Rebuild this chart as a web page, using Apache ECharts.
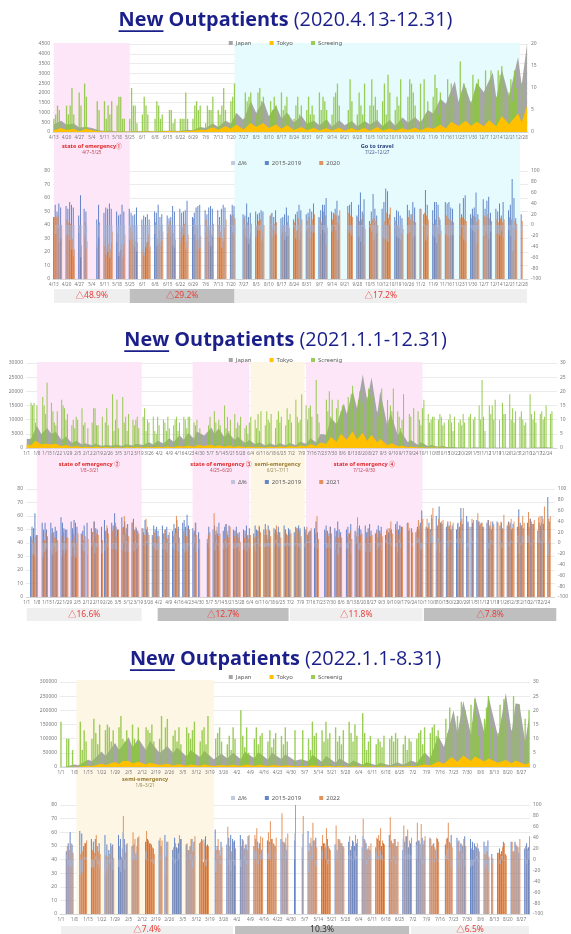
<!DOCTYPE html>
<html><head><meta charset="utf-8">
<script src="https://cdn.jsdelivr.net/npm/echarts@6/dist/echarts.min.js"></script>
<style>html,body{margin:0;padding:0;background:#fff}#c{width:571px;height:934px}</style>
</head><body><div id="c"></div>
<script>
// ===================== DATA =====================
// Panel 1 : 2020.4.13 - 12.31 (rows = weeks Mon..Sun)
const start20 = [2020, 4, 13], days20 = 263;
const japan20 = [["4/13",390],["4/17",580],["4/20",370],["4/24",430],["4/27",230],["5/1",260],["5/4",200],["5/8",90],["5/11",50],["5/15",70],["5/18",30],["5/22",40],["5/25",20],["5/29",50],["6/1",40],["6/5",50],["6/8",20],["6/12",60],["6/15",70],["6/19",60],["6/22",50],["6/26",110],["6/29",90],["7/3",250],["7/6",200],["7/10",430],["7/13",260],["7/17",590],["7/20",420],["7/23",980],["7/27",600],["7/31",1580],["8/3",970],["8/7",1600],["8/10",800],["8/14",1360],["8/17",680],["8/20",1000],["8/24",490],["8/28",840],["8/31",440],["9/4",570],["9/7",340],["9/11",650],["9/14",270],["9/18",600],["9/21",340],["9/25",560],["9/28",300],["10/2",560],["10/5",380],["10/9",620],["10/12",290],["10/16",620],["10/19",320],["10/23",740],["10/26",490],["10/30",760],["11/2",490],["11/6",1130],["11/9",940],["11/13",1700],["11/16",1440],["11/21",2600],["11/23",1520],["11/26",2500],["11/30",1440],["12/3",2520],["12/7",2030],["12/12",3040],["12/14",1700],["12/17",3200],["12/21",1800],["12/26",3830],["12/28",2400],["12/31",4520]];
const tokyo20 = [["4/13",90],["4/17",200],["4/20",100],["4/24",160],["4/27",40],["5/1",160],["5/4",90],["5/8",40],["5/11",20],["5/15",10],["5/18",10],["5/25",8],["5/29",20],["6/1",10],["6/5",20],["6/8",10],["6/12",25],["6/15",45],["6/19",35],["6/22",30],["6/26",55],["6/29",60],["7/3",120],["7/6",100],["7/10",240],["7/13",120],["7/17",290],["7/20",170],["7/23",370],["7/27",130],["7/31",460],["8/3",260],["8/7",460],["8/10",200],["8/14",380],["8/17",160],["8/20",340],["8/24",100],["8/28",250],["8/31",100],["9/4",210],["9/7",80],["9/11",190],["9/14",80],["9/18",220],["9/21",80],["9/25",200],["9/28",80],["10/2",200],["10/5",60],["10/9",250],["10/12",80],["10/16",180],["10/19",80],["10/23",190],["10/26",100],["10/30",220],["11/2",90],["11/6",240],["11/9",160],["11/13",370],["11/16",180],["11/19",530],["11/23",310],["11/27",570],["11/30",310],["12/3",530],["12/7",290],["12/10",600],["12/14",300],["12/17",820],["12/21",390],["12/26",950],["12/28",480],["12/31",1340]];
const screen20 = [
3,4,6,5,2,0,0, 6,4,6,10,4,0,0, 9,6,0,11,8,0,0, 0,0,0,7,5,0,0, 7,3,6,4,7,0,0, 6,8,8,3,3,0,0, 3,10,6,6,2,0,0,
4,8,6,4,0,0,0, 3,7,6,3,4,0,0, 0,5,5,2,3,0,0, 3,3,3,9,3,0,0, 3,6,7,5,6,0,0, 2,6,5,5,8,0,0, 5,4,6,10,5,0,0,
7,8,11,0,0,0,0, 3,9,7,8,9,0,0, 4,9,10,7,8,0,0, 0,7,5,8,6,0,0, 9,5,6,8,4,0,0, 3,6,8,4,6,0,0, 5,8,4,6,4,0,0,
9,5,8,7,5,0,0, 4,8,9,11,6,0,0, 0,0,5,12,7,0,0, 4,9,6,4,11,0,0, 6,12,6,8,5,0,0, 7,11,4,13,9,0,0, 5,8,6,12,2,0,0,
8,12,11,9,6,0,0, 11,0,12,4,7,0,0, 8,13,10,4,9,0,0, 6,12,5,11,8,0,0, 0,16,9,11,10,0,0, 7,13,9,11,12,0,0,
6,14,10,9,14,0,0, 8,14,13,15,11,0,0, 9,12,7,14,10,0,0, 11,0,0,0];
const base20 = [
46,55,50,56,53,0,0, 54,52,57,55,53,0,0, 47,62,0,52,50,0,0, 0,0,0,44,55,0,0, 49,53,52,56,52,0,0, 50,47,48,55,50,0,0, 52,49,47,48,53,0,0,
44,47,46,48,44,0,0, 50,49,55,46,48,0,0, 47,45,46,54,50,0,0, 52,49,50,51,58,0,0, 46,49,53,54,55,0,0, 51,48,53,54,52,0,0, 51,46,52,55,53,0,0,
48,55,54,0,0,0,0, 48,47,56,46,49,0,0, 50,48,49,51,50,0,0, 0,47,49,46,51,0,0, 45,46,48,53,47,0,0, 44,48,50,55,51,0,0, 48,49,52,50,56,0,0,
46,51,55,55,60,0,0, 50,49,52,58,47,0,0, 0,0,54,55,57,0,0, 47,55,64,50,59,0,0, 43,50,63,52,47,0,0, 52,57,67,65,48,0,0, 46,51,50,47,45,0,0,
55,51,48,57,53,0,0, 52,0,48,66,55,0,0, 51,57,57,55,44,0,0, 57,56,57,53,52,0,0, 0,56,48,60,62,0,0, 48,52,53,64,48,0,0,
59,52,58,61,49,0,0, 52,50,56,47,57,0,0, 51,55,74,60,45,0,0, 48,0,0,0];
const cur20 = [
46,46,47,38,40,0,0, 44,42,41,30,22,0,0, 40,25,0,42,28,0,0, 0,0,0,25,42,0,0, 30,24,26,22,35,0,0, 34,20,26,22,33,0,0, 38,35,30,28,27,0,0,
22,20,27,33,24,0,0, 42,30,36,28,35,0,0, 40,43,36,34,29,0,0, 35,38,41,28,33,0,0, 45,40,38,30,32,0,0, 44,38,36,33,41,0,0, 40,35,30,38,44,0,0,
47,48,45,0,0,0,0, 45,38,42,30,41,0,0, 39,43,44,36,40,0,0, 0,48,38,41,42,0,0, 37,40,35,42,38,0,0, 42,36,45,40,44,0,0, 43,46,40,44,48,0,0,
45,42,50,47,38,0,0, 44,48,47,42,51,0,0, 0,0,49,47,46,0,0, 46,43,44,48,37,0,0, 41,44,45,43,40,0,0, 40,43,49,45,53,0,0, 43,40,38,34,37,0,0,
46,44,48,43,42,0,0, 52,0,49,47,44,0,0, 41,44,38,46,36,0,0, 47,45,44,43,42,0,0, 0,45,46,44,43,0,0, 45,47,46,42,44,0,0,
47,46,48,45,43,0,0, 44,42,45,42,44,0,0, 46,44,38,43,41,0,0, 43,0,0,0];

// Panel 2 : 2021.1.1 - 12.31 (rows = weeks Fri..Thu)
const start21 = [2021, 1, 1], days21 = 365;
const japan21 = [["1/1",3200],["1/4",3300],["1/8",7880],["1/11",4900],["1/15",7100],["1/18",4900],["1/21",5700],["1/25",2700],["1/28",4100],["2/1",1800],["2/4",2600],["2/8",1200],["2/10",1700],["2/15",1000],["2/17",1500],["2/22",700],["2/24",1100],["3/1",800],["3/3",1200],["3/8",700],["3/10",1300],["3/15",900],["3/17",1500],["3/22",1100],["3/26",2000],["3/29",1200],["4/1",2600],["4/5",1600],["4/9",3400],["4/12",2100],["4/16",4500],["4/19",2900],["4/22",5300],["4/26",3300],["4/28",5800],["5/3",4400],["5/8",7200],["5/10",4900],["5/13",7000],["5/17",3700],["5/19",5700],["5/24",2800],["5/26",4100],["5/31",1800],["6/3",2800],["6/7",1300],["6/10",2000],["6/14",900],["6/17",1700],["6/21",1000],["6/24",1700],["6/28",1000],["7/1",1800],["7/5",1000],["7/8",2200],["7/12",1500],["7/15",3400],["7/19",1900],["7/22",4900],["7/26",4700],["7/29",10700],["8/2",8400],["8/7",15700],["8/9",12000],["8/13",20300],["8/16",14000],["8/20",25900],["8/23",16800],["8/26",24900],["8/30",11800],["9/1",20000],["9/6",7600],["9/8",12400],["9/13",4600],["9/15",6000],["9/20",2000],["9/22",2800],["9/27",1100],["9/29",2000],["10/4",600],["10/6",1100],["10/11",400],["10/14",700],["10/18",230],["10/21",350],["10/25",150],["10/28",280],["11/1",90],["11/5",230],["11/15",80],["11/19",150],["11/29",80],["12/3",130],["12/13",110],["12/17",190],["12/24",300],["12/27",200],["12/31",500]];
const tokyo21 = [["1/1",1340],["1/4",880],["1/7",2520],["1/11",1220],["1/14",1500],["1/18",1200],["1/21",1470],["1/25",620],["1/28",1060],["2/1",390],["2/4",730],["2/8",280],["2/10",430],["2/15",260],["2/18",440],["2/22",180],["2/25",340],["3/1",120],["3/4",280],["3/8",110],["3/11",330],["3/15",180],["3/18",320],["3/22",190],["3/25",390],["3/29",230],["4/1",480],["4/5",250],["4/8",540],["4/12",300],["4/15",730],["4/19",400],["4/22",860],["4/26",420],["4/29",1030],["5/3",700],["5/8",1120],["5/10",570],["5/13",1010],["5/17",420],["5/20",840],["5/24",330],["5/27",680],["5/31",260],["6/3",530],["6/7",240],["6/10",440],["6/14",210],["6/17",450],["6/21",240],["6/24",570],["6/28",320],["7/1",670],["7/5",340],["7/8",900],["7/12",500],["7/15",1300],["7/19",730],["7/22",1980],["7/26",1430],["7/29",3860],["8/2",2200],["8/5",5040],["8/9",2880],["8/13",5900],["8/16",2960],["8/20",5400],["8/23",2450],["8/26",4700],["8/30",1900],["9/1",3170],["9/6",970],["9/9",1680],["9/13",610],["9/16",830],["9/20",300],["9/22",540],["9/27",150],["9/30",220],["10/4",90],["10/7",140],["10/11",50],["10/14",60],["10/18",30],["10/21",40],["10/28",20],["11/5",20],["12/1",15],["12/24",40],["12/31",80]];
const screen21 = [
0,0,0,16,15,16,9, 15,0,0,0,18,15,12, 23,0,0,16,13,9,8, 13,0,0,17,15,14,10, 12,0,0,8,10,7,11, 10,0,0,14,8,9,0,
7,0,0,9,14,14,8, 8,0,0,11,0,9,14, 8,0,0,19,6,10,17, 7,0,0,18,9,11,6, 12,0,0,10,8,10,11, 7,0,0,11,14,6,10,
9,0,0,11,6,5,11, 8,0,0,10,9,6,11, 7,0,0,8,10,11,6, 9,0,0,11,10,7,11, 11,0,0,9,8,10,0, 7,0,0,0,0,0,8,
11,0,0,13,9,6,10, 8,0,0,15,7,11,6, 10,0,0,12,7,9,8, 11,0,0,7,8,5,9, 11,0,0,10,7,12,6, 13,0,0,8,13,10,9,
12,0,0,7,10,13,9, 11,0,0,8,14,10,12, 9,0,0,17,11,9,10, 19,0,0,15,10,14,15, 11,0,0,24,12,9,0, 0,0,0,17,13,20,11,
17,0,0,14,17,11,13, 15,0,0,0,18,15,19, 22,0,0,13,17,20,14, 16,0,0,18,21,18,15, 19,0,0,13,11,16,21, 12,0,0,17,10,15,13,
21,0,0,13,11,7,10, 19,0,0,0,12,11,0, 14,0,0,13,10,8,14, 17,0,0,12,9,10,11, 11,0,0,10,12,11,8, 9,0,0,10,12,9,6,
11,0,0,9,10,8,12, 9,0,0,11,12,0,10, 11,0,0,15,10,24,11, 6,0,0,15,12,15,10, 17,0,0,10,0,16,12, 12,0,0,19,10,14,9,
13,0,0,11,13,10,8, 9,0,0,19,12,10,13, 9,0,0,12,13,10,11, 15,0,0,12,13,0,0, 0];
const base21 = [
0,0,0,45,52,51,62, 46,0,0,0,55,50,55, 50,0,0,55,51,48,52, 49,0,0,59,55,51,50, 50,0,0,56,51,57,55, 52,0,0,47,49,53,0,
55,0,0,51,48,56,51, 50,0,0,52,0,57,49, 51,0,0,55,53,62,52, 50,0,0,59,52,56,51, 54,0,0,55,58,50,51, 49,0,0,51,48,57,50,
48,0,0,46,53,50,52, 49,0,0,53,47,50,52, 46,0,0,49,54,51,57, 52,0,0,55,57,52,61, 53,0,0,51,49,55,0, 48,0,0,0,0,0,43,
52,0,0,50,53,49,47, 55,0,0,49,52,54,46, 53,0,0,50,49,52,47, 48,0,0,50,49,53,46, 51,0,0,47,53,50,49, 52,0,0,50,54,46,53,
49,0,0,51,50,48,52, 48,0,0,53,50,46,51, 50,0,0,48,52,51,53, 51,0,0,52,50,46,48, 49,0,0,51,56,48,0, 0,0,0,50,53,49,47,
52,0,0,51,49,56,50, 48,0,0,0,50,52,47, 54,0,0,49,45,51,53, 50,0,0,53,48,51,54, 49,0,0,47,50,53,49, 52,0,0,46,50,48,51,
50,0,0,54,56,50,53, 52,0,0,0,55,49,0, 51,0,0,48,52,50,55, 64,0,0,52,51,55,50, 58,0,0,60,53,67,55, 54,0,0,52,56,53,50,
53,0,0,50,55,52,66, 54,0,0,60,56,0,52, 55,0,0,57,56,53,55, 52,0,0,55,57,53,50, 56,0,0,56,0,53,55, 51,0,0,53,56,55,50,
54,0,0,52,65,55,53, 51,0,0,55,52,58,54, 54,0,0,49,55,53,60, 54,0,0,74,56,0,0, 0];
const cur21 = [
0,0,0,44,42,40,45, 46,0,0,0,41,42,48, 45,0,0,47,40,44,43, 42,0,0,45,48,41,44, 44,0,0,42,47,45,40, 47,0,0,46,42,45,0,
43,0,0,48,56,45,47, 46,0,0,42,0,49,53, 47,0,0,49,52,55,45, 50,0,0,51,60,47,53, 45,0,0,56,49,52,46, 47,0,0,51,46,58,52,
46,0,0,44,48,43,45, 45,0,0,47,50,44,43, 48,0,0,45,47,60,49, 44,0,0,49,47,45,51, 50,0,0,47,55,46,0, 43,0,0,0,0,0,46,
48,0,0,62,46,52,45, 47,0,0,43,54,49,44, 52,0,0,45,49,47,44, 41,0,0,44,47,45,43, 46,0,0,44,45,49,53, 48,0,0,46,50,43,50,
45,0,0,47,53,46,48, 44,0,0,50,47,45,48, 47,0,0,45,51,48,49, 45,0,0,48,52,47,49, 51,0,0,47,60,43,0, 0,0,0,49,48,45,52,
47,0,0,45,48,44,46, 44,0,0,0,45,47,49, 43,0,0,48,59,45,46, 47,0,0,44,48,50,45, 46,0,0,48,44,49,47, 45,0,0,49,51,47,56,
47,0,0,50,46,53,48, 52,0,0,0,55,51,0, 48,0,0,50,57,53,48, 58,0,0,58,52,50,61, 66,0,0,52,58,55,56, 57,0,0,54,52,56,50,
55,0,0,54,50,56,58, 66,0,0,55,52,0,58, 57,0,0,62,56,54,55, 52,0,0,57,51,56,52, 54,0,0,55,0,56,50, 61,0,0,55,53,58,51,
56,0,0,59,52,53,60, 55,0,0,63,58,56,54, 57,0,0,59,60,55,58, 67,0,0,58,60,0,0, 0];

// Panel 3 : 2022.1.1 - 8.31 (rows = weeks Sat..Fri)
const start22 = [2022, 1, 1], days22 = 243;
const japan22 = [["1/1",530],["1/3",780],["1/8",8500],["1/10",6400],["1/15",25700],["1/17",20000],["1/22",54500],["1/24",39000],["1/29",84900],["1/31",60000],["2/5",105000],["2/7",70000],["2/10",100000],["2/14",59000],["2/16",93000],["2/21",49000],["2/25",73000],["2/28",49000],["3/2",69000],["3/7",37000],["3/9",60000],["3/14",34000],["3/16",57000],["3/21",27000],["3/25",47000],["3/28",30000],["3/31",50000],["4/4",27000],["4/6",54000],["4/11",31000],["4/13",53000],["4/18",26000],["4/20",51000],["4/25",27000],["4/27",45000],["5/2",22000],["5/5",27000],["5/9",20000],["5/11",43000],["5/16",18000],["5/18",39000],["5/23",15000],["5/25",30000],["5/30",11000],["6/1",23000],["6/6",8000],["6/8",17000],["6/13",6000],["6/15",15000],["6/20",6000],["6/24",17000],["6/27",8000],["7/1",23000],["7/4",15000],["7/8",51000],["7/11",31000],["7/15",110000],["7/18",71000],["7/23",200000],["7/25",117000],["7/28",233000],["8/1",114000],["8/3",249000],["8/8",118000],["8/10",251000],["8/15",107000],["8/19",261000],["8/22",121000],["8/24",224000],["8/26",222000],["8/29",90000],["8/31",176000]];
const tokyo22 = [["1/1",80],["1/3",100],["1/8",1220],["1/10",870],["1/15",4560],["1/17",3000],["1/22",11230],["1/24",7400],["1/29",17430],["1/31",10900],["2/2",21580],["2/5",21120],["2/7",12210],["2/10",18280],["2/14",8500],["2/16",14660],["2/21",6900],["2/25",11300],["2/28",5700],["3/3",10000],["3/7",4800],["3/9",9000],["3/14",4800],["3/16",8400],["3/21",3700],["3/25",7400],["3/28",4000],["3/31",8000],["4/4",3800],["4/7",8800],["4/11",4800],["4/14",8100],["4/18",3800],["4/21",7300],["4/25",3800],["4/28",5800],["5/2",2800],["5/7",3300],["5/9",2500],["5/11",5900],["5/16",2200],["5/18",4800],["5/23",1800],["5/25",3700],["5/30",1300],["6/1",2900],["6/6",900],["6/8",2000],["6/13",840],["6/15",1900],["6/20",1000],["6/24",2400],["6/27",1700],["7/1",3500],["7/4",3000],["7/8",8800],["7/11",5300],["7/15",19100],["7/18",11800],["7/22",34900],["7/25",17700],["7/28",40400],["8/1",21000],["8/3",37400],["8/8",19000],["8/10",30100],["8/15",15000],["8/19",25000],["8/22",12600],["8/24",23000],["8/29",9000],["8/31",15000]];
const screen22 = [
16,0,0,10,10,0,6, 0,0,0,16,6,13,9, 0,0,10,17,12,8,15, 0,0,13,15,14,9,13, 0,0,14,18,10,9,13, 0,0,15,10,8,14,0,
0,0,14,13,12,15,9, 0,0,10,18,0,14,17, 0,0,11,13,9,14,8, 0,0,14,12,10,13,16, 0,0,9,13,14,8,18, 0,0,0,10,12,14,9,
0,0,8,11,6,14,10, 0,0,20,11,7,14,5, 0,0,10,14,8,11,12, 0,0,9,13,7,10,12, 0,0,11,8,14,9,0, 0,0,13,0,0,0,13,
0,0,10,6,16,11,12, 0,0,13,9,16,10,12, 0,0,14,9,11,8,13, 0,0,16,12,9,15,11, 0,0,19,12,6,9,11, 0,0,8,10,9,7,11,
0,0,10,11,9,12,10, 0,0,8,11,6,10,9, 0,0,10,12,13,8,14, 0,0,12,14,15,11,13, 0,0,0,17,12,21,15, 0,0,18,13,23,15,20,
0,0,22,16,24,18,11, 0,0,17,21,25,0,14, 0,0,12,22,17,24,16, 0,0,13,25,18,14,22, 0,0,17,10,20];
const base22 = [
0,0,0,46,52,60,51, 0,0,0,61,59,50,52, 0,0,55,53,55,50,52, 0,0,58,51,47,52,51, 0,0,58,55,48,55,51, 0,0,50,51,44,56,0,
0,0,53,55,52,51,48, 0,0,54,50,0,58,53, 0,0,47,56,49,52,55, 0,0,51,47,50,55,53, 0,0,52,55,38,57,51, 0,0,0,62,50,47,53,
0,0,51,56,58,55,54, 0,0,58,55,48,51,57, 0,0,50,55,53,52,47, 0,0,54,53,55,52,50, 0,0,55,53,52,47,0, 0,0,54,0,0,0,49,
0,0,61,52,50,54,56, 0,0,50,52,49,55,48, 0,0,51,47,55,52,50, 0,0,53,47,54,50,52, 0,0,49,55,52,48,47, 0,0,49,55,54,50,52,
0,0,58,54,52,55,50, 0,0,47,53,57,49,52, 0,0,53,54,51,56,54, 0,0,56,50,52,47,55, 0,0,0,51,56,53,58, 0,0,56,54,52,50,57,
0,0,55,53,52,49,48, 0,0,53,50,54,0,44, 0,0,45,48,46,53,44, 0,0,53,46,53,50,45, 0,0,48,52,49];
const cur22 = [
0,0,0,50,47,52,45, 0,0,0,44,46,52,54, 0,0,47,45,58,46,44, 0,0,43,42,44,50,41, 0,0,50,42,72,45,52, 0,0,60,55,50,57,0,
0,0,61,54,52,49,44, 0,0,56,54,0,42,53, 0,0,49,52,48,58,55, 0,0,52,47,55,46,57, 0,0,53,54,52,50,50, 0,0,0,47,55,43,49,
0,0,64,50,46,53,48, 0,0,50,54,51,47,58, 0,0,58,63,48,57,56, 0,0,60,68,55,51,56, 0,0,74,53,56,59,0, 0,0,80,0,0,0,72,
0,0,46,56,67,54,49, 0,0,58,52,63,50,47, 0,0,65,55,54,52,49, 0,0,57,50,53,58,55, 0,0,70,54,47,50,52, 0,0,56,58,63,54,51,
0,0,71,52,55,50,53, 0,0,65,57,62,54,56, 0,0,67,54,66,51,57, 0,0,55,51,49,56,53, 0,0,0,55,67,52,49, 0,0,53,46,51,55,50,
0,0,48,47,50,52,46, 0,0,44,46,42,0,41, 0,0,45,44,49,52,43, 0,0,53,46,51,49,55, 0,0,50,48,57];

// Tick scales
const topScale20 = {max: 4500, interval: 500, rmax: 20};
const topScale21 = {max: 30000, interval: 5000, rmax: 30};
const topScale22 = {max: 300000, interval: 50000, rmax: 30};

// ===================== BUILD =====================
const FONT = '"Noto Sans", "Noto Sans CJK JP", sans-serif';
const TFONT = '"Open Sans", "Noto Sans", sans-serif';
const NAVY = '#1b1f8a';
const AX = '#7a7a7a';
const PINK = '#fce6f8', CYAN = '#e6fbfd', YEL = '#fdf6e4';
const LG = '#efefef', DG = '#bfbfbf', RED = '#e8403c';

function dayCats(s, n) {
  const out = []; const d = new Date(Date.UTC(s[0], s[1] - 1, s[2]));
  for (let i = 0; i < n; i++) { out.push((d.getUTCMonth() + 1) + '/' + d.getUTCDate()); d.setUTCDate(d.getUTCDate() + 1); }
  return out;
}
function toIdx(cats, pairs) { return pairs.map(p => [cats.indexOf(p[0]), p[1]]); }
function fit(arr, n) { const a = arr.slice(0, n); while (a.length < n) a.push(0); return a; }
function deltaOf(b, c) { return b.map((v, i) => (v > 0 && c[i] > 0) ? Math.round((c[i] - v) / v * 1000) / 10 : null); }

const option = { animation: false, backgroundColor: '#fff', textStyle: {fontFamily: FONT},
  grid: [], xAxis: [], yAxis: [], series: [], legend: [], graphic: [] };

function shade(from, to, color, l1, l2, c1, c2, off) {
  const lab = l1 ? {show: true, position: ['50%', off], align: 'center', verticalAlign: 'top',
      formatter: '{a|' + l1 + '}\n{b|' + l2 + '}',
      rich: {a: {fontSize: 5.6, color: c1, fontWeight: 'bold', lineHeight: 7, align: 'center', fontFamily: FONT},
             b: {fontSize: 4.6, color: c2, lineHeight: 6, align: 'center', fontFamily: FONT}}} : {show: false};
  return [{xAxis: from, itemStyle: {color: color}, label: lab}, {xAxis: to}];
}
function band(from, to, color, text, tc) {
  return [{xAxis: from, itemStyle: {color: color}, label: {show: true, position: 'inside', formatter: text, color: tc, fontSize: 8.5, fontFamily: FONT}}, {xAxis: to}];
}

function addPanel(P) {
  const g = option.grid.length, x = option.xAxis.length, y = option.yAxis.length;
  const cats = P.cats, n = cats.length;
  const L = P.left, R = P.right;
  option.grid.push({left: L, right: R, top: P.ovTop, height: P.ovH});
  option.grid.push({left: L, right: R, top: P.topTop, height: P.topH});
  option.grid.push({left: L, right: R, top: P.botTop, height: P.botH});
  option.grid.push({left: L, right: R, top: P.bandTop, height: P.bandH});
  const hiddenX = gi => ({type: 'category', data: cats, gridIndex: gi, show: false});
  const shownX = gi => ({type: 'category', data: cats, gridIndex: gi, z: 3,
    axisTick: {show: false}, axisLine: {lineStyle: {color: '#d0d0d0', width: 0.8}},
    axisLabel: {interval: 6, fontSize: 4.6, color: AX, margin: 3, fontFamily: FONT}});
  option.xAxis.push(hiddenX(g), shownX(g + 1), shownX(g + 2), hiddenX(g + 2), hiddenX(g + 3));
  const valAx = (gi, min, max, itv, pos, split) => ({type: 'value', gridIndex: gi, min: min, max: max, interval: itv, position: pos, z: 1,
    axisLine: {show: false}, axisTick: {show: false},
    axisLabel: {fontSize: 5, color: AX, margin: 3, fontFamily: FONT, formatter: v => String(v)},
    splitLine: {show: split, lineStyle: {color: '#dedede', width: 0.6}}});
  option.yAxis.push({type: 'value', gridIndex: g, show: false, min: 0, max: 1});
  option.yAxis.push(valAx(g + 1, 0, P.scale.max, P.scale.interval, 'left', true));
  option.yAxis.push(valAx(g + 1, 0, P.scale.rmax, 5, 'right', false));
  option.yAxis.push(valAx(g + 2, 0, 80, 10, 'left', true));
  option.yAxis.push(valAx(g + 2, -100, 100, 20, 'right', false));
  option.yAxis.push({type: 'value', gridIndex: g + 3, show: false, min: 0, max: 1});

  const base = fit(P.base, n), cur = fit(P.cur, n);
  option.series.push(
    {type: 'line', xAxisIndex: x, yAxisIndex: y, data: [], z: 0.5, silent: true,
     markArea: {silent: true, data: P.shades}},
    {type: 'line', name: 'Japan', xAxisIndex: x + 1, yAxisIndex: y + 1, data: toIdx(cats, P.japan),
     symbol: 'none', lineStyle: {width: 0}, itemStyle: {color: '#a6a6a6'}, areaStyle: {color: '#a6a6a6', opacity: 1}, z: 2},
    {type: 'bar', name: P.scrName, xAxisIndex: x + 1, yAxisIndex: y + 2, data: fit(P.scr, n),
     itemStyle: {color: 'rgba(140,198,63,0.88)'}, barWidth: '72%', z: 3},
    {type: 'line', name: 'Tokyo', xAxisIndex: x + 1, yAxisIndex: y + 1, data: toIdx(cats, P.tokyo),
     symbol: 'none', lineStyle: {width: 0}, itemStyle: {color: '#ffc000'}, areaStyle: {color: '#ffc000', opacity: 1}, z: 4},
    {type: 'bar', name: '2015-2019', xAxisIndex: x + 2, yAxisIndex: y + 3, data: base,
     itemStyle: {color: 'rgba(74,114,190,0.85)'}, barGap: '0%', barCategoryGap: '8%', z: 2},
    {type: 'bar', name: P.year, xAxisIndex: x + 2, yAxisIndex: y + 3, data: cur,
     itemStyle: {color: 'rgba(222,128,66,0.85)'}, barGap: '0%', barCategoryGap: '8%', z: 2},
    {type: 'bar', name: 'Δ%', xAxisIndex: x + 3, yAxisIndex: y + 4, data: deltaOf(base, cur),
     itemStyle: {color: 'rgba(170,182,212,0.72)'}, barCategoryGap: '15%', z: 3},
    {type: 'line', xAxisIndex: x + 4, yAxisIndex: y + 5, data: [], silent: true,
     markArea: {silent: true, data: P.bands}}
  );
  const lg = (data, top) => ({data: data, top: top, left: 'center', itemWidth: 4, itemHeight: 4, itemGap: 18, icon: 'rect',
    textStyle: {fontSize: 6, color: '#595959', fontFamily: FONT, padding: [0, 0, 0, -2]}, padding: 0, selectedMode: false});
  option.legend.push(lg(['Japan', 'Tokyo', P.scrName], P.legTop), lg(['Δ%', '2015-2019', P.year], P.legBotTop));
}

// titles
const cvs = document.createElement('canvas').getContext('2d');
function tw(t, w, s) { cvs.font = w + ' ' + s + 'px ' + TFONT; return cvs.measureText(t).width; }
function titleEls(cy, range, size) {
  const wN = tw('New', 'bold', size), wS = tw(' ', 'bold', size), wO = tw('Outpatients', 'bold', size),
        wS2 = tw(' ', 'normal', size), wR = tw(range, 'normal', size);
  let x0 = 285.5 - (wN + wS + wO + wS2 + wR) / 2;
  const st = (t, w) => ({text: t, fontFamily: TFONT, fontSize: size, fontWeight: w, fill: NAVY, align: 'left', verticalAlign: 'middle'});
  const els = [];
  els.push({type: 'text', x: x0, y: cy, style: st('New', 'bold')});
  els.push({type: 'line', shape: {x1: x0, y1: cy + size * 0.56, x2: x0 + wN, y2: cy + size * 0.56}, style: {stroke: NAVY, lineWidth: 1.8}});
  x0 += wN + wS;
  els.push({type: 'text', x: x0, y: cy, style: st('Outpatients', 'bold')});
  x0 += wO + wS2;
  els.push({type: 'text', x: x0, y: cy, style: st(range, 'normal')});
  return els;
}
const t1 = '(2020.4.13-12.31)';
const tsize = 22 * 334 / (tw('New', 'bold', 22) + tw(' ', 'bold', 22) + tw('Outpatients', 'bold', 22) + tw(' ', 'normal', 22) + tw(t1, 'normal', 22));

const cats20 = dayCats(start20, days20), cats21 = dayCats(start21, days21), cats22 = dayCats(start22, days22);

addPanel({cats: cats20, left: 53, right: 43, ovTop: 43, ovH: 236, topTop: 44, topH: 88, botTop: 171, botH: 108, bandTop: 289, bandH: 14,
  scale: topScale20, legTop: 40, legBotTop: 160, scrName: 'Screeing', year: '2020',
  japan: japan20, tokyo: tokyo20, scr: screen20, base: base20, cur: cur20,
  shades: [shade('4/13', '5/25', PINK, 'state of emergency①', '4/7~5/25', '#e02828', '#c04858', 100),
           shade('7/22', '12/27', CYAN, 'Go to travel', '7/22~12/27', '#27407e', '#4a5a90', 100)],
  bands: [band('4/13', '5/25', LG, '△48.9%', RED), band('5/25', '7/22', DG, '△29.2%', RED), band('7/22', '12/31', LG, '△17.2%', RED)]});

addPanel({cats: cats21, left: 26, right: 14, ovTop: 362, ovH: 235, topTop: 363, topH: 85, botTop: 489, botH: 108, bandTop: 608, bandH: 13,
  scale: topScale21, legTop: 357, legBotTop: 479, scrName: 'Screenig', year: '2021',
  japan: japan21, tokyo: tokyo21, scr: screen21, base: base21, cur: cur21,
  shades: [shade('1/8', '3/21', PINK, 'state of emergency ②', '1/8~3/21', '#e02828', '#c04858', 99),
           shade('4/25', '6/3', PINK, 'state of emergency ③', '4/25~6/20', '#e02828', '#c04858', 99),
           shade('6/4', '7/11', YEL, 'semi-emergency', '6/21~7/11', '#9a7a2a', '#9a8a5a', 99),
           shade('7/12', '9/30', PINK, 'state of emergency ④', '7/12~9/30', '#e02828', '#c04858', 99)],
  bands: [band('1/1', '3/21', LG, '△16.6%', RED), band('4/1', '6/30', DG, '△12.7%', RED), band('7/1', '9/30', LG, '△11.8%', RED), band('10/1', '12/31', DG, '△7.8%', RED)]});

addPanel({cats: cats22, left: 60, right: 41, ovTop: 680, ovH: 234, topTop: 682, topH: 85, botTop: 805, botH: 109, bandTop: 926, bandH: 12,
  scale: topScale22, legTop: 674, legBotTop: 795, scrName: 'Screenig', year: '2022',
  japan: japan22, tokyo: tokyo22, scr: screen22, base: base22, cur: cur22,
  shades: [shade('1/9', '3/21', YEL, 'semi-emergency', '1/9~3/21', '#9a7a2a', '#9a8a5a', 96)],
  bands: [band('1/1', '3/31', LG, '△7.4%', RED), band('4/1', '6/30', DG, '10.3%', '#333'), band('7/1', '8/31', LG, '△6.5%', RED)]});

option.graphic = [].concat(titleEls(20, t1, tsize), titleEls(340, '(2021.1.1-12.31)', tsize), titleEls(659, '(2022.1.1-8.31)', tsize));

const chart = echarts.init(document.getElementById('c'), null, {renderer: 'canvas'});
chart.setOption(option);
</script></body></html>
